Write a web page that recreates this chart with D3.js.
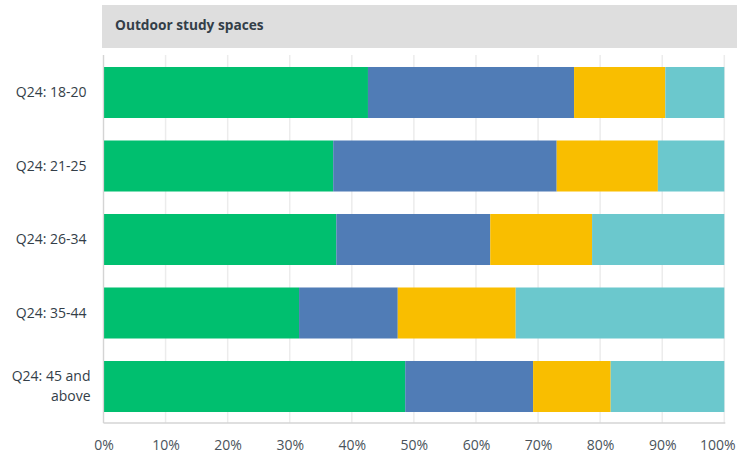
<!DOCTYPE html>
<html>
<head>
<meta charset="utf-8">
<script src="https://cdn.jsdelivr.net/npm/d3@7"></script>
<style>
  html, body { margin: 0; padding: 0; background: #fff; }
  svg { display: block; font-family: "Open Sans", Roboto, sans-serif; }
</style>
</head>
<body>
<svg id="chart" width="737" height="457"></svg>
<script>
// Age groups (each may wrap onto two lines)
const categories = [
  ["Q24: 18-20"],
  ["Q24: 21-25"],
  ["Q24: 26-34"],
  ["Q24: 35-44"],
  ["Q24: 45 and", "above"]
];
// Share of answers per group, in percent, stacked left to right
const answerA = [42.6, 37.0, 37.5, 31.5, 48.6];
const answerB = [33.2, 36.0, 24.8, 15.9, 20.6];
const answerC = [14.7, 16.3, 16.4, 19.0, 12.5];
const answerD = [9.5, 10.7, 21.3, 33.6, 18.3];
const seriesColors = ["#00bf6f", "#507cb6", "#f9be00", "#6bc8cd"];
const xTicks = [0, 10, 20, 30, 40, 50, 60, 70, 80, 90, 100];
const title = "Outdoor study spaces";

const svg = d3.select("#chart");
const plotLeft = 103.5, plotRight = 724.3, plotTop = 55, plotBottom = 423;
const fontFamily = "'Open Sans', Roboto, sans-serif";

const x = d3.scaleLinear().domain([0, 100]).range([plotLeft, plotRight]);
const y = d3.scaleBand()
  .domain(d3.range(categories.length))
  .range([55.75, 423.25])
  .paddingInner(0.306)
  .paddingOuter(0.153);

// Title banner
svg.append("rect").attr("x", 102).attr("y", 5).attr("width", 635).attr("height", 43)
  .attr("fill", "#dedede");
svg.append("text").attr("x", 115).attr("y", 30)
  .attr("font-size", 13.7).attr("font-weight", 700).attr("fill", "#333e48")
  .attr("font-family", fontFamily)
  .text(title);

// Vertical gridlines
svg.append("g").selectAll("line").data(xTicks).join("line")
  .attr("x1", d => x(d)).attr("x2", d => x(d))
  .attr("y1", plotTop).attr("y2", plotBottom)
  .attr("stroke", "#ececec").attr("stroke-width", 1.5);

// Stacked bars
const rows = categories.map((c, i) => ({
  i, a: answerA[i], b: answerB[i], c: answerC[i], d: answerD[i]
}));
const stack = d3.stack().keys(["a", "b", "c", "d"])(rows);
svg.append("g").selectAll("g").data(stack).join("g")
  .attr("fill", (s, k) => seriesColors[k])
  .selectAll("rect").data(s => s).join("rect")
  .attr("x", d => x(d[0]))
  .attr("width", d => x(Math.min(d[1], 100)) - x(d[0]))
  .attr("y", d => y(d.data.i))
  .attr("height", y.bandwidth());

// Frame lines: left and bottom
svg.append("line").attr("x1", plotLeft).attr("x2", plotLeft).attr("y1", plotTop).attr("y2", plotBottom)
  .attr("stroke", "#d4d4d4").attr("stroke-width", 1.2);
svg.append("line").attr("x1", plotLeft).attr("x2", plotRight + 1).attr("y1", plotBottom).attr("y2", plotBottom)
  .attr("stroke", "#d4d4d4").attr("stroke-width", 1.5);

// X axis labels
const xAxis = d3.axisBottom(x).tickValues(xTicks).tickSize(0).tickFormat(d => d + "%");
const gx = svg.append("g").attr("transform", `translate(0,${plotBottom})`).call(xAxis);
gx.select(".domain").remove();
gx.selectAll("text")
  .attr("font-size", 14).attr("fill", "#4a535b")
  .attr("font-family", fontFamily)
  .attr("dy", "1.7em");
gx.selectAll(".tick").filter(d => d === 100).select("text")
  .attr("text-anchor", "end").attr("x", 735 - x(100));

// Y axis labels
const yAxis = d3.axisLeft(y).tickSize(0).tickFormat("");
const gy = svg.append("g").attr("transform", `translate(${plotLeft},0)`).call(yAxis);
gy.select(".domain").remove();
gy.selectAll(".tick").each(function(i) {
  const lines = categories[i];
  const t = d3.select(this).append("text")
    .attr("text-anchor", "end")
    .attr("font-size", 14).attr("fill", "#333e48")
    .attr("font-family", fontFamily);
  const lh = 20;
  lines.forEach((ln, k) => {
    t.append("tspan")
      .attr("x", lines.length > 1 ? -13 : -17)
      .attr("y", (k - (lines.length - 1) / 2) * lh)
      .attr("dy", "0.35em")
      .text(ln);
  });
});
</script>
</body>
</html>
